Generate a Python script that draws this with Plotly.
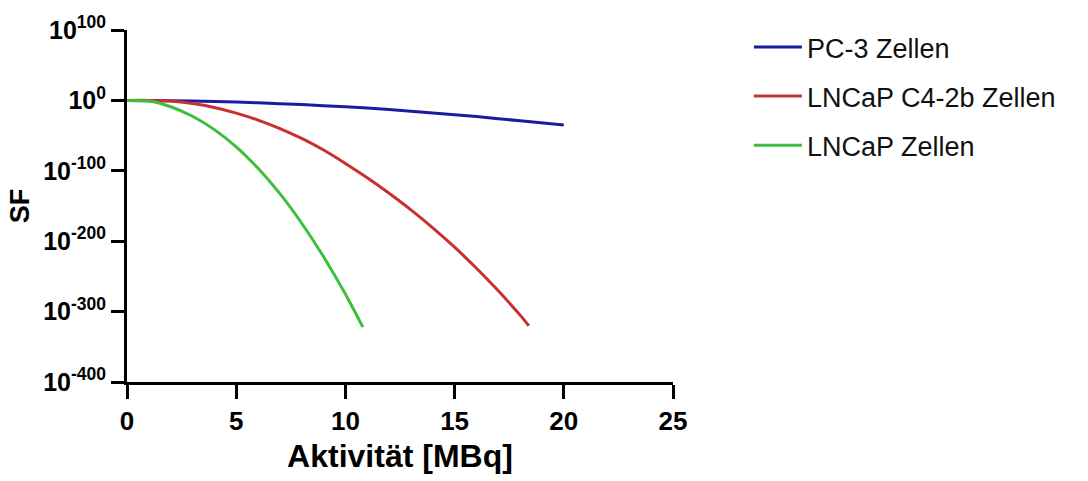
import plotly.graph_objects as go

# Activity (MBq) and log10(SF)
x_pc3 = [0, 2, 4, 6, 8, 10, 12, 14, 16, 18, 20]
logsf_pc3 = [0, -0.5, -1.6, -3.4, -6, -9, -13, -18, -23, -29, -35]

x_c42b = [0, 1, 2, 3, 4, 5, 6, 7, 8, 9, 10, 11, 12, 13, 14, 15, 16, 17, 18, 18.4]
logsf_c42b = [0, 0, -1, -4.5, -10, -18, -28, -40, -54, -70.5, -89.5, -110, -132, -155.5,
              -181, -208.5, -238.5, -270.5, -305, -320]

x_lncap = [0, 1, 2, 3, 4, 5, 6, 7, 8, 9, 10, 10.8]
logsf_lncap = [0, -1, -9, -22.5, -41.5, -66, -96.5, -132.5, -174.5, -222, -275, -322]

series_names = ["PC-3 Zellen", "LNCaP C4-2b Zellen", "LNCaP Zellen"]
series_colors = ["#1b1ba0", "#c83030", "#3cbf3c"]

y_tickvals = [100, 0, -100, -200, -300, -400]
y_ticktext = ["10<sup>100</sup>", "10<sup>0</sup>", "10<sup>-100</sup>",
              "10<sup>-200</sup>", "10<sup>-300</sup>", "10<sup>-400</sup>"]
x_tickvals = [0, 5, 10, 15, 20, 25]

FONT = "Liberation Sans, Arial, sans-serif"

fig = go.Figure()
for i, (xs, ys) in enumerate([(x_pc3, logsf_pc3), (x_c42b, logsf_c42b), (x_lncap, logsf_lncap)]):
    fig.add_trace(go.Scatter(
        x=xs, y=ys, mode="lines", name=series_names[i],
        line=dict(color=series_colors[i], width=3, shape="spline", smoothing=0.6),
        legendgroup=str(i),
    ))

fig.update_layout(
    width=1088, height=481,
    margin=dict(l=127, r=415, t=25, b=94),
    paper_bgcolor="white", plot_bgcolor="white",
    font=dict(family=FONT, color="black"),
    showlegend=True,
    legend=dict(
        x=1.139, xanchor="left", y=1.02, yanchor="top",
        font=dict(size=27, family=FONT, color="#111"),
        tracegroupgap=11,
        itemwidth=48,
        bgcolor="rgba(0,0,0,0)",
    ),
    xaxis=dict(
        range=[0, 25], tickvals=x_tickvals,
        showgrid=False, zeroline=False,
        showline=True, linecolor="black", linewidth=3,
        ticks="outside", ticklen=14, tickwidth=3, tickcolor="black",
        tickfont=dict(size=26, family=FONT, weight="bold"),
        title=dict(text="Aktivität [MBq]", font=dict(size=32, family=FONT, weight="bold"),
                   standoff=10),
    ),
    yaxis=dict(
        range=[-400, 100], tickvals=y_tickvals, ticktext=y_ticktext,
        showgrid=False, zeroline=False,
        showline=True, linecolor="black", linewidth=3,
        ticks="outside", ticklen=13, tickwidth=3, tickcolor="black",
        tickfont=dict(size=25, family=FONT, weight="bold"),
        title=dict(text="SF", font=dict(size=27, family=FONT, weight="bold"), standoff=6),
    ),
)

fig.write_html("out.html")
